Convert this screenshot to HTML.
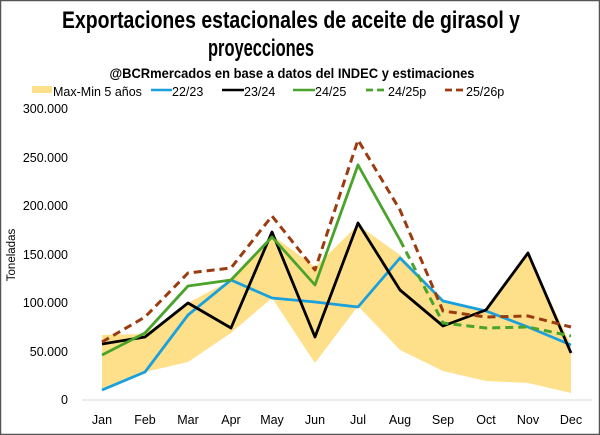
<!DOCTYPE html>
<html><head><meta charset="utf-8"><style>
html,body{margin:0;padding:0;background:#fff}
svg{display:block}
text{font-family:"Liberation Sans Narrow","Liberation Sans",sans-serif}
</style></head><body>
<svg width="600" height="435" viewBox="0 0 600 435" xmlns="http://www.w3.org/2000/svg">
<rect x="0.5" y="0.5" width="599" height="434" fill="#fff" stroke="#555" stroke-width="1.5"/>
<text x="291" y="28" font-size="24" font-weight="bold" text-anchor="middle" textLength="458" lengthAdjust="spacingAndGlyphs">Exportaciones estacionales de aceite de girasol y</text>
<text x="261" y="56" font-size="24" font-weight="bold" text-anchor="middle" textLength="106" lengthAdjust="spacingAndGlyphs">proyecciones</text>
<text x="292" y="78" font-size="14" font-weight="bold" text-anchor="middle" textLength="365" lengthAdjust="spacingAndGlyphs">@BCRmercados en base a datos del INDEC y estimaciones</text>
<g font-size="12.5" font-family="Liberation Sans,sans-serif">
<rect x="32" y="86" width="20" height="7" fill="#FFE08A"/><text x="53" y="96">Max-Min 5 años</text>
<line x1="151" y1="90" x2="172" y2="90" stroke="#1AA0DC" stroke-width="2.5"/><text x="172" y="96">22/23</text>
<line x1="222" y1="90" x2="244" y2="90" stroke="#000" stroke-width="2.5"/><text x="244" y="96">23/24</text>
<line x1="293" y1="90" x2="315" y2="90" stroke="#4AA32A" stroke-width="2.5"/><text x="315" y="96">24/25</text>
<line x1="366" y1="90" x2="387" y2="90" stroke="#4AA32A" stroke-width="2.8" stroke-dasharray="7,4"/><text x="388" y="96">24/25p</text>
<line x1="445" y1="90" x2="466" y2="90" stroke="#9A3C10" stroke-width="2.8" stroke-dasharray="7,4"/><text x="466" y="96">25/26p</text>
</g>
<g font-size="12.5" font-family="Liberation Sans,sans-serif" text-anchor="end">
<text x="68" y="113">300.000</text><text x="68" y="162">250.000</text><text x="68" y="210">200.000</text>
<text x="68" y="259">150.000</text><text x="68" y="307">100.000</text><text x="68" y="356">50.000</text><text x="68" y="404">0</text>
</g>
<text transform="translate(15,255) rotate(-90)" font-size="11.5" font-family="Liberation Sans,sans-serif" text-anchor="middle">Toneladas</text>
<line x1="82" y1="400" x2="592" y2="400" stroke="#d9d9d9" stroke-width="1"/>
<polygon fill="#FFE08A" points="102,335 145,334 188,303 231,280 272,235 315,267 358,225 400,255 443,300 486,312 528,253 571,345 571,393 528,383 486,381 443,371 400,350 358,306 315,363 272,298 231,333 188,362 145,372 102,390"/>
<g fill="none" stroke-width="2.8" stroke-linejoin="round">
<polyline stroke="#1AA0DC" points="102,390 145,372 188,315 231,280 272,298 315,302 358,307 400,258 443,301 486,311 528,327 571,345"/>
<polyline stroke="#000" points="102,344 145,337 188,303 231,328 272,232 315,337 358,223 400,290 443,326 486,310 528,253 571,353"/>
<polyline stroke="#4AA32A" points="102,355 145,333 188,286 231,280 272,237 315,285 358,165 400,240"/>
<polyline stroke="#4AA32A" stroke-width="3" stroke-dasharray="8,5" points="400,240 443,323 486,328 528,327 571,336"/>
<polyline stroke="#9A3C10" stroke-width="3" stroke-dasharray="8,5" points="102,342 145,317 188,273 231,268 272,216 315,270 358,140 400,210 443,311 486,317 528,316 571,327"/>
</g>
<g font-size="12.5" font-family="Liberation Sans,sans-serif" text-anchor="middle">
<text x="102" y="424">Jan</text><text x="145" y="424">Feb</text><text x="188" y="424">Mar</text><text x="231" y="424">Apr</text>
<text x="272" y="424">May</text><text x="315" y="424">Jun</text><text x="358" y="424">Jul</text><text x="400" y="424">Aug</text>
<text x="443" y="424">Sep</text><text x="486" y="424">Oct</text><text x="528" y="424">Nov</text><text x="571" y="424">Dec</text>
</g>
</svg>
</body></html>
